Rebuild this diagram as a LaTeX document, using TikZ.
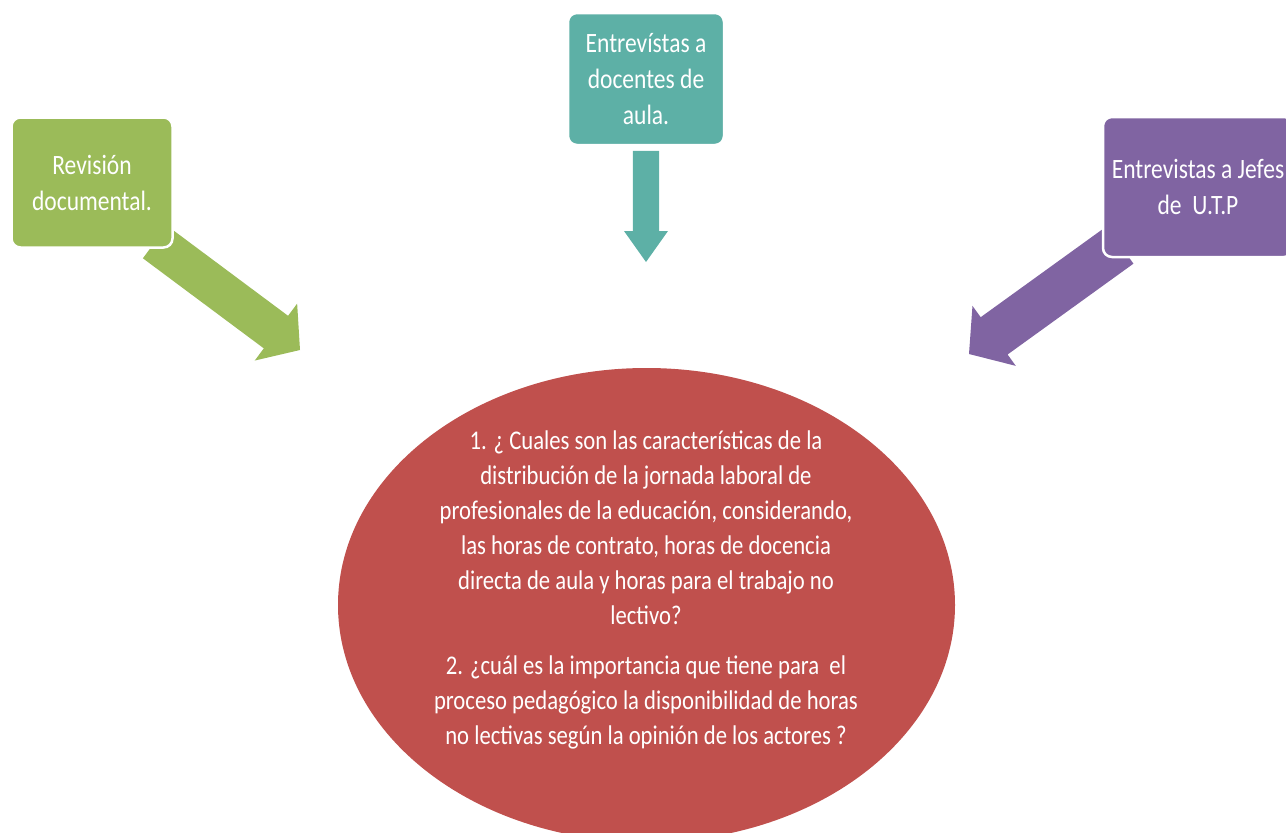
\documentclass[tikz,border=0pt]{standalone}
\usepackage{fontspec}
\setmainfont{Carlito}[FakeStretch=0.84]
\usetikzlibrary{calc,shapes.geometric}
\pgfdeclarelayer{bg}
\pgfsetlayers{bg,main}
\definecolor{gr}{HTML}{9BBB59}
\definecolor{tl}{HTML}{5DB0A6}
\definecolor{pu}{HTML}{8064A2}
\definecolor{rd}{HTML}{C0504D}
\newcommand{\fatarrow}[6]{%
  \coordinate (hb) at ($(#2)!#5!(#1)$);
  \fill[#6] ($(#1)!#3!90:(#2)$) -- ($(hb)!#3!90:(#2)$) -- ($(hb)!#4!90:(#2)$) -- (#2)
    -- ($(hb)!#4!-90:(#2)$) -- ($(hb)!#3!-90:(#2)$) -- ($(#1)!#3!-90:(#2)$) -- cycle;}
\begin{document}
\begin{tikzpicture}[x=1pt,y=-1pt,
  box/.style={rounded corners=9pt, draw=white, line width=2.5pt, text=white, align=center,
    inner sep=0pt, font=\fontsize{28}{36}\selectfont},
  qtext/.style={text=white, align=center, inner sep=0pt, font=\fontsize{27}{35}\selectfont}]
\useasboundingbox (0,0) rectangle (1286,833);
\clip (0,0) rectangle (1286,833);
% central ellipse
\node[ellipse, fill=rd, minimum width=617pt, minimum height=474pt, inner sep=0pt] (q) at (646.5,605) {};
\node[qtext] (qt) at (646,590) {1. ¿ Cuales son las características de la\\
distribución de la jornada laboral de\\
profesionales de la educación, considerando,\\
las horas de contrato, horas de docencia\\
directa de aula y horas para el trabajo no\\
lectivo?\\[15pt]
2. ¿cuál es la importancia que tiene para~~el\\
proceso pedagógico la disponibilidad de horas\\
no lectivas según la opinión de los actores ?};
% boxes
\node[box, fill=gr, minimum width=161pt, minimum height=130pt] (rev) at (92,182.5) {Revisión\\documental.};
\node[box, fill=tl, minimum width=156pt, minimum height=132pt] (doc) at (646,79) {Entrevístas a\\docentes de\\aula.};
\node[box, fill=pu, minimum width=190pt, minimum height=140pt] (utp) at (1198,187) {Entrevistas a Jefes\\de~~U.T.P};
% arrow ends
\coordinate (gtail) at (155,242);
\coordinate (gtip) at (300,350);
\coordinate (ttail) at ($(doc.south)+(0,4.5)$);
\coordinate (ttip) at (646,262);
\coordinate (ptail) at (1120,245);
\coordinate (ptip) at (969,354);
\begin{pgfonlayer}{bg}
\fatarrow{gtail}{gtip}{20.3pt}{35.5pt}{30pt}{gr}
\fatarrow{ttail}{ttip}{13.2pt}{22pt}{31pt}{tl}
\fatarrow{ptail}{ptip}{23pt}{37pt}{31pt}{pu}
\end{pgfonlayer}
\end{tikzpicture}
\end{document}
